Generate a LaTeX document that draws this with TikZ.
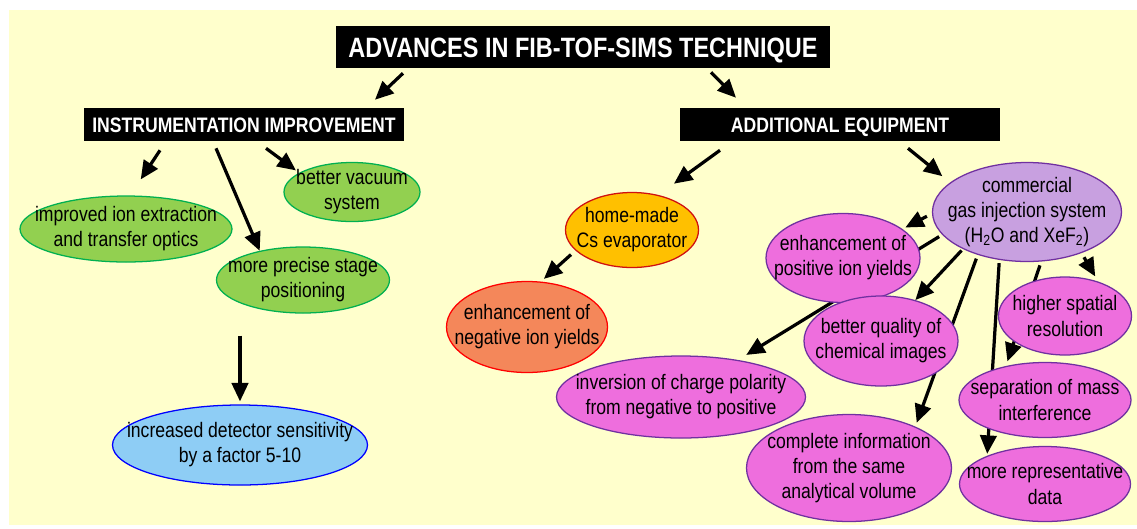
\documentclass[tikz,border=0pt]{standalone}
\usepackage{fontspec}
\setmainfont{Liberation Sans}[FakeStretch=0.84]
\usepackage{tikz}
\usetikzlibrary{shapes.geometric, arrows.meta, calc, backgrounds}

\definecolor{bgyellow}{HTML}{FFFFCC}
\definecolor{leafgreen}{HTML}{92D050}
\definecolor{leafedge}{HTML}{00B050}
\definecolor{csorange}{HTML}{FFC000}
\definecolor{csedge}{HTML}{D01010}
\definecolor{negsalmon}{HTML}{F4875A}
\definecolor{detblue}{HTML}{8ECDF5}
\definecolor{gaslilac}{HTML}{C8A0E0}
\definecolor{resmagenta}{HTML}{EE6EDD}
\definecolor{purpedge}{HTML}{7030A0}

\newcommand\bubblefont{\fontsize{14.9}{17.8}\selectfont}
\newcommand\hdrfont{\fontsize{14.9}{17}\selectfont\bfseries}
\newcommand\bigfont{\fontsize{19.9}{22}\selectfont\bfseries}

\tikzset{
  hdr/.style={fill=black, text=white, inner sep=0pt, text depth=0pt},
  bubble/.style 2 args={ellipse, draw=#1, fill=#2, line width=0.9pt, inner sep=0pt},
  sz/.style 2 args={minimum width=#1*0.025cm, minimum height=#2*0.025cm},
  every label/.style={align=center, font=\bubblefont, inner sep=0pt, text=black},
  arr/.style={line width=2.3pt, -{Triangle[length=0.46cm,width=0.41cm]}},
}

\begin{document}
\begin{tikzpicture}[x=0.025cm, y=-0.025cm]
    \useasboundingbox (0,0) rectangle (1137,528);

    \node[hdr, sz={494}{42}, font=\bigfont, text height=14.3pt] (title) at (583,47) {ADVANCES IN FIB-TOF-SIMS TECHNIQUE};
    \node[hdr, sz={320}{33}, font=\hdrfont, text height=10.7pt] (instr) at (244,124.5) {INSTRUMENTATION IMPROVEMENT};
    \node[hdr, sz={320}{33}, font=\hdrfont, text height=10.7pt] (addeq) at (840,124.5) {ADDITIONAL EQUIPMENT};

    \node[bubble={leafedge}{leafgreen}, sz={212}{66}, label={center:improved ion extraction\\and transfer optics}] (improved) at (126,229) {};
    \node[bubble={leafedge}{leafgreen}, sz={136}{59}, label={center:better vacuum\\system}] (vacuum) at (352,192) {};
    \node[bubble={leafedge}{leafgreen}, sz={173}{66}, label={center:more precise stage\\positioning}] (stage) at (303,280) {};
    \node[bubble={blue}{detblue}, sz={255}{80}, label={center:increased detector sensitivity\\by a factor 5-10}] (detector) at (240,445) {};

    \node[bubble={csedge}{csorange}, sz={133}{75}, label={center:home-made\\Cs evaporator}] (cs) at (632,230) {};
    \node[bubble={red}{negsalmon}, sz={161}{91}, label={center:enhancement of\\negative ion yields}] (neg) at (527,327) {};
    \node[bubble={purpedge}{gaslilac}, sz={189}{99}, label={center:commercial\\gas injection system\\(H\textsubscript{2}O and XeF\textsubscript{2})}] (gas) at (1027,212) {};
    \node[bubble={purpedge}{resmagenta}, sz={154}{89}, label={center:enhancement of\\positive ion yields}] (pos) at (843,258) {};
    \node[bubble={purpedge}{resmagenta}, sz={249}{82}, label={center:inversion of charge polarity\\from negative to positive}] (inv) at (681,397) {};
    \node[bubble={purpedge}{resmagenta}, sz={154}{90}, label={center:better quality of\\chemical images}] (qual) at (881,341) {};
    \node[bubble={purpedge}{resmagenta}, sz={133}{78}, label={center:higher spatial\\resolution}] (higher) at (1065,316) {};
    \node[bubble={purpedge}{resmagenta}, sz={172}{75}, label={center:separation of mass\\interference}] (sep) at (1045,400) {};
    \node[bubble={purpedge}{resmagenta}, sz={205}{107}, label={center:complete information\\from the same\\analytical volume}] (compl) at (849,468) {};
    \node[bubble={purpedge}{resmagenta}, sz={171}{75}, label={center:more representative\\data}] (repr) at (1045,484) {};

    \begin{pgfonlayer}{background}
    \fill[bgyellow] (9,10) rectangle (1137,525);
    \draw[arr] ($(title.south)+(-180,5)$) -- ($(instr.north)+(131,-8)$);
    \draw[arr] ($(title.south)+(128,4)$) -- ($(addeq.north)+(-104,-10)$);
    \draw[arr, shorten >=0.48cm] ($(instr.south)+(-84,9)$) -- (improved.83);
    \draw[arr] ($(instr.south)+(-28,7)$) -- (stage.146);
    \draw[arr, shorten >=0.1cm] ($(instr.south)+(22,7)$) -- (vacuum.160);
    \draw[arr] ($(detector.north |- stage.south)+(0,22)$) -- ($(detector.north)+(0,-3)$);
    \draw[arr, shorten >=0.48cm] ($(addeq.south)+(-120,9)$) -- (cs.53);
    \draw[arr, shorten >=0.25cm] ($(addeq.south)+(68,7)$) -- (gas.159);
    \draw[arr, shorten <=0.15cm, shorten >=0.1cm] (cs.200) -- (neg.73);
    \draw[arr, shorten <=0.14cm, shorten >=0.08cm] (gas.181) -- (pos.26);
    \draw[arr, shorten <=0.09cm, shorten >=0.24cm] (gas.195) -- (inv.33);
    \draw[arr, shorten <=0.05cm] (gas.210) -- (qual.50);
    \draw[arr, shorten <=0.1cm, shorten >=0.1cm] (gas.221) -- (compl.32);
    \draw[arr, shorten <=0.08cm, shorten >=0.05cm] (gas.240) -- (repr.154);
    \draw[arr, shorten <=0.1cm, shorten >=0.12cm] (gas.286) -- (sep.139);
    \draw[arr, shorten <=0.12cm, shorten >=0.15cm] (gas.323) -- (higher.46);
    \end{pgfonlayer}
\end{tikzpicture}
\end{document}
